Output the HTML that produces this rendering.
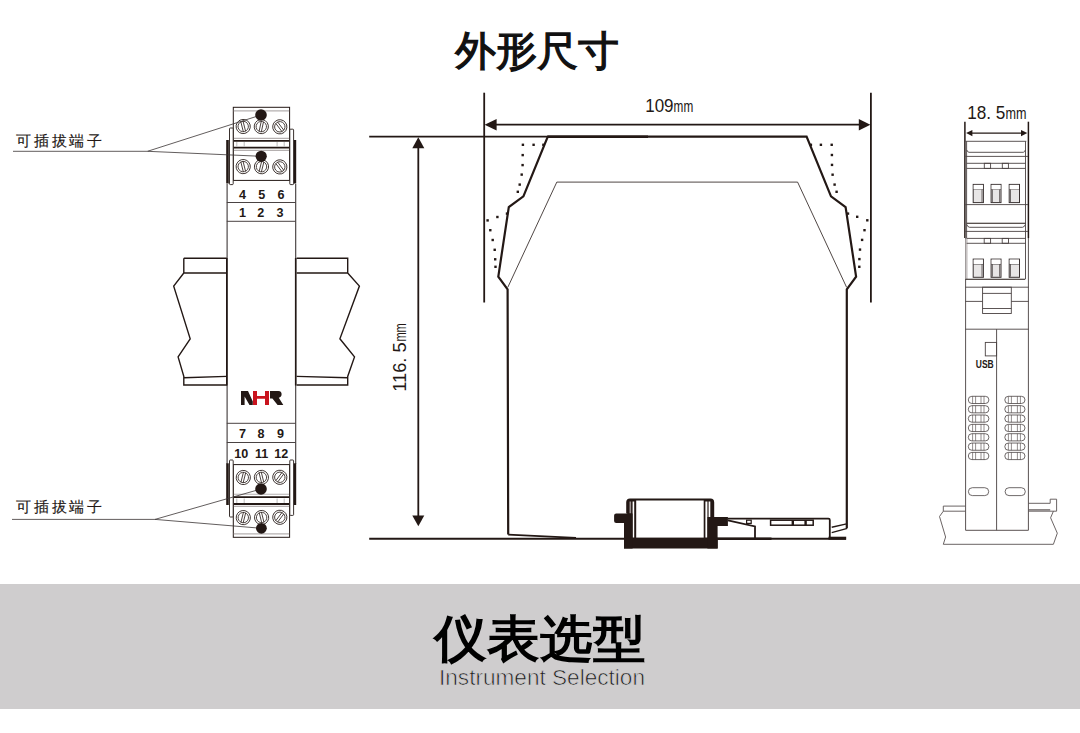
<!DOCTYPE html>
<html><head><meta charset="utf-8">
<style>
html,body{margin:0;padding:0;background:#fff;width:1080px;height:733px;overflow:hidden;font-family:"Liberation Sans",sans-serif;}
svg{position:absolute;left:0;top:0;}
.band{position:absolute;left:0;top:584px;width:1080px;height:125px;background:#cfcdce;}
.t1{position:absolute;left:0;width:1080px;text-align:center;color:#111;white-space:nowrap;}
</style></head><body>
<div class="band"></div>
<div class="t1" id="title1" style="left:-3px;top:24px;font-size:41px;font-weight:400;-webkit-text-stroke:1.3px #111;">外形尺寸</div>
<div class="t1" id="title2" style="top:604px;font-size:53px;font-weight:700;color:#000;transform:scaleY(0.95);transform-origin:540px 35px;">仪表选型</div>
<div class="t1" id="title3" style="left:2px;top:665px;font-size:22.6px;font-weight:400;color:#1a1a1a;-webkit-text-stroke:0.7px #cfcdce;">Instrument Selection</div>
<svg width="1080" height="733" viewBox="0 0 1080 733">
<defs>
<g id="scr">
<circle r="7.1" fill="#fff" stroke="#231815" stroke-width="0.8"/>
<circle r="5.2" fill="none" stroke="#231815" stroke-width="0.75"/>
<line x1="-1.15" y1="-5" x2="-1.15" y2="5" stroke="#231815" stroke-width="0.75"/>
<line x1="1.15" y1="-5" x2="1.15" y2="5" stroke="#231815" stroke-width="0.75"/>
</g>
</defs>
<!-- LEFT DEVICE -->
<g id="left" stroke="#231815" fill="none">
<!-- body edges -->
<line x1="227.1" y1="184" x2="227.1" y2="464" stroke="#3f3838" stroke-width="1.1"/>
<line x1="295.7" y1="184" x2="295.7" y2="464" stroke="#3f3838" stroke-width="1.1"/>
<line x1="226.8" y1="258" x2="226.8" y2="385.5" stroke-width="1.6"/>
<line x1="295.7" y1="258" x2="295.7" y2="385.5" stroke-width="1.6"/>
<line x1="226.8" y1="202.5" x2="295.7" y2="202.5" stroke="#4a4343" stroke-width="1"/>
<line x1="226.8" y1="221.3" x2="295.7" y2="221.3" stroke="#4a4343" stroke-width="1"/>
<line x1="226.8" y1="423.3" x2="295.7" y2="423.3" stroke="#4a4343" stroke-width="1"/>
<line x1="226.8" y1="442.5" x2="295.7" y2="442.5" stroke="#4a4343" stroke-width="1"/>
<!-- rails -->
<path d="M183.8 258.2H226.8M183.8 258.2V273H226.8M183.8 273L173.7 286.1L190.2 338.8L178.1 356.9L183.8 376.4V385H226.8M183.8 377.8L226.8 376.4" stroke-width="1.4"/>
<path d="M296.6 258.2H347.7V273H296.6M347.7 273L359.4 286.1L339.9 338.8L354.5 356.9L347.7 376.4V385H296.6M347.7 377.8L296.6 376.4" stroke-width="1.4"/>
<!-- top terminal block -->
<rect x="233.3" y="107.3" width="56.3" height="73.1" fill="#fff" stroke-width="1"/>
<line x1="233.8" y1="110.9" x2="289.1" y2="110.9" stroke="#b5b0b0" stroke-width="1.3"/>
<line x1="233.8" y1="138.4" x2="289.1" y2="138.4" stroke="#b5b0b0" stroke-width="1.1"/>
<line x1="233.3" y1="140.9" x2="289.6" y2="140.9" stroke-width="1.8"/>
<line x1="233.3" y1="147.6" x2="289.6" y2="147.6" stroke-width="1.8"/>
<line x1="233.8" y1="150.4" x2="289.1" y2="150.4" stroke="#b5b0b0" stroke-width="1.1"/>
<path d="M236.8 142V146.5M244.2 142V146.5M277.1 142V146.5M284.2 142V146.5" stroke="#aaa" stroke-width="0.8"/>
<use href="#scr" transform="translate(243.2,126.5) rotate(-14)"/>
<use href="#scr" transform="translate(261.3,126.6) rotate(12)"/>
<use href="#scr" transform="translate(279.8,126.8) rotate(-37)"/>
<use href="#scr" transform="translate(243.2,166.6) rotate(-14)"/>
<use href="#scr" transform="translate(261.5,166.7) rotate(14)"/>
<use href="#scr" transform="translate(279.8,166.9) rotate(-37)"/>
<!-- clips top -->
<rect x="226.2" y="140" width="2.6" height="43.5" fill="#231815" stroke="none"/>
<rect x="293.6" y="140" width="2.6" height="43.5" fill="#231815" stroke="none"/>
<rect x="229.5" y="128" width="3.7" height="56.6" rx="0.8" fill="#fff" stroke-width="0.9"/>
<rect x="289.8" y="129.2" width="3.8" height="55.4" rx="0.8" fill="#fff" stroke-width="0.9"/>
<!-- bottom terminal block -->
<rect x="233.3" y="464.6" width="56.3" height="72.7" fill="#fff" stroke-width="1"/>
<line x1="233.8" y1="494.2" x2="289.1" y2="494.2" stroke="#b5b0b0" stroke-width="1.1"/>
<line x1="233.3" y1="497.2" x2="289.6" y2="497.2" stroke-width="1.8"/>
<line x1="233.3" y1="504" x2="289.6" y2="504" stroke-width="1.8"/>
<line x1="233.8" y1="506.4" x2="289.1" y2="506.4" stroke="#b5b0b0" stroke-width="1.1"/>
<line x1="233.8" y1="533.8" x2="289.1" y2="533.8" stroke="#b5b0b0" stroke-width="1.3"/>
<path d="M236.8 498.5V503M244.2 498.5V503M277.1 498.5V503M284.2 498.5V503" stroke="#aaa" stroke-width="0.8"/>
<use href="#scr" transform="translate(243.3,477.5) rotate(14)"/>
<use href="#scr" transform="translate(261.4,477.4) rotate(-14)"/>
<use href="#scr" transform="translate(279.8,477.3) rotate(37)"/>
<use href="#scr" transform="translate(243.3,517.6) rotate(14)"/>
<use href="#scr" transform="translate(261.6,517.5) rotate(-14)"/>
<use href="#scr" transform="translate(279.8,517.3) rotate(37)"/>
<rect x="226.2" y="463.3" width="2.6" height="41.7" fill="#231815" stroke="none"/>
<rect x="293.6" y="463.3" width="2.6" height="41.7" fill="#231815" stroke="none"/>
<rect x="229.5" y="460" width="3.7" height="57" rx="0.8" fill="#fff" stroke-width="0.9"/>
<rect x="289.8" y="460" width="3.8" height="55.4" rx="0.8" fill="#fff" stroke-width="0.9"/>
<!-- leader lines -->
<path d="M13 151.3H147.5L261 115M147.5 151.3L261 156.3" stroke="#3a3333" stroke-width="0.8"/>
<path d="M12 519.4H155L261 489M155 519.4L261.4 528.3" stroke="#3a3333" stroke-width="0.8"/>
<circle cx="261" cy="115" r="5.8" fill="#231815" stroke="none"/>
<circle cx="261.2" cy="156.3" r="5.6" fill="#231815" stroke="none"/>
<circle cx="261" cy="489" r="5.8" fill="#231815" stroke="none"/>
<circle cx="261.4" cy="528.3" r="5.4" fill="#231815" stroke="none"/>
<!-- NHR logo -->
<path d="M241 391H248L252.8 401.5V404.9H249.5L244.6 396.5V404.9H241Z" fill="#231815" stroke="none"/>
<path d="M253 391H257V396.1H265V391H269V404.9H265V398.7H257V404.9H253Z" fill="#c9141e" stroke="none"/>
<path d="M270 391H278.3C281 391 281.6 392.6 281.6 394.3C281.6 396 280.6 397.2 278.8 397.7L283.3 404.9H277.6L272.4 398.4H270Z" fill="#231815" stroke="none"/>
</g>
<g id="leftText" font-family="Liberation Sans" font-weight="700" font-size="12.6" fill="#231815" text-anchor="middle">
<text x="242.5" y="199.2">4</text><text x="261.8" y="199.2">5</text><text x="281" y="199.2">6</text>
<text x="242.5" y="216.7">1</text><text x="260.8" y="216.7">2</text><text x="280" y="216.7">3</text>
<text x="242.5" y="437.7">7</text><text x="261.1" y="437.7">8</text><text x="280.6" y="437.7">9</text>
<text x="241.2" y="458.2">10</text><text x="261.6" y="458.2">11</text><text x="281.2" y="458.2">12</text>
</g>
<g font-family="Liberation Sans" font-size="15" fill="#231815" letter-spacing="2.7" stroke="#231815" stroke-width="0.15">
<text x="16.2" y="146">可插拔端子</text>
<text x="16.2" y="512">可插拔端子</text>
</g>
<!-- MIDDLE -->
<g id="mid" stroke="#231815" fill="none">
<!-- extension lines -->
<line x1="484.2" y1="92.7" x2="484.2" y2="302.5" stroke-width="1.8"/>
<line x1="870.9" y1="92.7" x2="870.9" y2="302.5" stroke-width="1.8"/>
<line x1="369.2" y1="136.7" x2="548" y2="136.7" stroke-width="1.8"/>
<line x1="369.2" y1="538.7" x2="846" y2="538.7" stroke-width="1.9"/>
<!-- horizontal dim -->
<line x1="490" y1="124.7" x2="865" y2="124.7" stroke-width="1.8"/>
<path d="M484.6 124.7L496.6 118.9V130.5Z" fill="#231815" stroke="none"/>
<path d="M870.4 124.7L858.8 118.9V130.5Z" fill="#231815" stroke="none"/>
<!-- vertical dim -->
<line x1="418.3" y1="142" x2="418.3" y2="520" stroke-width="1.8"/>
<path d="M418.3 137.3L412.3 148.2H424.3Z" fill="#231815" stroke="none"/>
<path d="M418.3 526.3L412.3 515.5H424.3Z" fill="#231815" stroke="none"/>
<!-- device outline -->
<path d="M508.2 534.6L507.6 289.3L498.3 276.6L508.8 207.1L523.4 196.4L547.8 136.7H806.6L831 196.4L845.6 207.1L856.1 276.6L846.8 289.3V528" stroke-width="2.2" stroke-linejoin="miter"/>
<path d="M508.2 534.6L576 537.8" stroke-width="1.8"/>
<line x1="548" y1="136.7" x2="648" y2="136.7" stroke-width="2.6"/>
<!-- inner thin line -->
<path d="M507.8 287.3L556.8 182.1H797.6L846.6 287.3" stroke-width="0.8"/>
<!-- dotted -->
<g fill="#231815" stroke="none">
<rect x="542.2" y="143.6" width="2.4" height="2.4"/><rect x="532.4" y="143.6" width="2.4" height="2.4"/><rect x="521.7" y="143.6" width="2.4" height="2.4"/><rect x="521.5" y="153.9" width="2.4" height="2.4"/><rect x="521.4" y="163.9" width="2.4" height="2.4"/><rect x="520.5" y="173.4" width="2.4" height="2.4"/><rect x="518.5" y="183.4" width="2.4" height="2.4"/><rect x="516.6" y="190.6" width="2.4" height="2.4"/><rect x="505.8" y="212.4" width="2.4" height="2.4"/><rect x="496.2" y="215.8" width="2.4" height="2.4"/><rect x="486.4" y="219.2" width="2.4" height="2.4"/><rect x="489.1" y="229.0" width="2.4" height="2.4"/><rect x="491.5" y="238.8" width="2.4" height="2.4"/><rect x="493.5" y="248.6" width="2.4" height="2.4"/><rect x="494.0" y="258.1" width="2.4" height="2.4"/><rect x="494.3" y="265.6" width="2.4" height="2.4"/><rect x="809.7" y="143.6" width="2.4" height="2.4"/><rect x="819.7" y="143.6" width="2.4" height="2.4"/><rect x="830.5" y="143.6" width="2.4" height="2.4"/><rect x="830.7" y="153.8" width="2.4" height="2.4"/><rect x="830.8" y="163.7" width="2.4" height="2.4"/><rect x="831.4" y="173.5" width="2.4" height="2.4"/><rect x="833.4" y="183.4" width="2.4" height="2.4"/><rect x="835.4" y="190.6" width="2.4" height="2.4"/><rect x="846.8" y="212.4" width="2.4" height="2.4"/><rect x="856.0" y="215.6" width="2.4" height="2.4"/><rect x="866.1" y="219.1" width="2.4" height="2.4"/><rect x="863.3" y="229.0" width="2.4" height="2.4"/><rect x="860.9" y="238.7" width="2.4" height="2.4"/><rect x="858.8" y="248.4" width="2.4" height="2.4"/><rect x="858.2" y="257.9" width="2.4" height="2.4"/><rect x="858.1" y="265.6" width="2.4" height="2.4"/>
</g>
<!-- DIN clip -->
<rect x="624" y="537.8" width="93.7" height="10.7" fill="#231815" stroke="none"/>
<path d="M627.2 513.4V502.2Q627.2 499.4 630 499.4H710.5Q713.2 499.4 713.2 502.2V517" stroke-width="2"/>
<rect x="627.2" y="500" width="9" height="38" fill="#231815" stroke="none"/>
<rect x="629.5" y="501.5" width="1.6" height="12" fill="#9a9090" stroke="none"/>
<rect x="632.6" y="501.5" width="1.6" height="36" fill="#fff" stroke="none"/>
<rect x="703.7" y="500" width="9.5" height="38" fill="#231815" stroke="none"/>
<rect x="705.4" y="501.5" width="2" height="36" fill="#fff" stroke="none"/>
<rect x="708.6" y="501.5" width="1.7" height="15.5" fill="#fff" stroke="none"/>
<path d="M624 548.5V523H616.2Q614.1 523 614.1 520.9V515.5Q614.1 513.4 616.2 513.4H632.6V548.5Z" fill="#231815" stroke="none"/>
<path d="M707.4 517H727.9V526H717.6V548.5H707.4Z" fill="#231815" stroke="none"/>
<!-- right component -->
<path d="M727.5 518.6H828.4Q829.8 518.6 829.8 520V538.3" stroke-width="1.8"/>
<path d="M727.9 520.3L755 526.4V538" stroke-width="1.8"/>
<rect x="746.6" y="520.2" width="4.6" height="3.2" stroke-width="1.2"/>
<rect x="770.6" y="520.2" width="42.6" height="5" stroke-width="1.5"/>
<path d="M792.8 520.2V525.2M805.6 520.2V525.2" stroke-width="2.4"/>
<line x1="828.5" y1="538.2" x2="846.2" y2="538.2" stroke-width="3"/>
<path d="M846.6 523.9L831.7 527.2M847.3 528.3L831.7 532.7" stroke-width="1.4"/>
<line x1="717" y1="538.8" x2="771.5" y2="538.8" stroke-width="2.4"/>
</g>
<g font-family="Liberation Sans" fill="#231815">
<text x="645.2" y="112.4" font-size="18.6" textLength="28.4" lengthAdjust="spacingAndGlyphs">109</text>
<text x="673.6" y="112.4" font-size="17.2" textLength="19.6" lengthAdjust="spacingAndGlyphs">mm</text>
<g transform="translate(405.7,391.2) rotate(-90)">
<text x="-0.6" y="0" font-size="18.6" textLength="49.4" lengthAdjust="spacingAndGlyphs">116. 5</text>
<text x="49.6" y="0" font-size="17.2" textLength="18.4" lengthAdjust="spacingAndGlyphs">mm</text>
</g>
</g>
<!-- RIGHT -->
<g id="right" stroke="#231815" fill="none">
<!-- dims -->
<line x1="964.9" y1="121.7" x2="964.9" y2="237.9" stroke-width="1.5"/>
<line x1="1028.4" y1="121.7" x2="1028.4" y2="238.1" stroke-width="1.5"/>
<line x1="970" y1="133.1" x2="1023" y2="133.1" stroke-width="1.2"/>
<path d="M966.1 133.1L972.4 129.9V136.3Z" fill="#231815" stroke="none"/>
<path d="M1027.3 133.1L1021 129.9V136.3Z" fill="#231815" stroke="none"/>
<!-- body lower -->
<g stroke="#5a5252" stroke-width="1">
<line x1="965.6" y1="238" x2="965.6" y2="530.3"/>
<line x1="1028.4" y1="238" x2="1028.4" y2="530.3"/>
<line x1="965.6" y1="530.3" x2="1028.4" y2="530.3"/>
<line x1="996.6" y1="329.2" x2="996.6" y2="530.3"/>
</g>
<rect x="965.4" y="238.5" width="2.2" height="40.5" fill="#c8c4c4" stroke="none"/>
<!-- plug upper -->
<g stroke="#4a4242" stroke-width="0.9">
<line x1="966.6" y1="141.3" x2="966.6" y2="238.3"/>
<line x1="1025.5" y1="141.3" x2="1025.5" y2="279.3"/>
<path d="M965.4 141.3H1026.3"/>
<path d="M966.8 150Q967.2 152 969 152.3H1023.3Q1025 152 1025.3 150"/>
<path d="M965.4 156.4H1028"/>
<path d="M966.6 163.3H1025.5M966.6 168.4H1025.5"/>
<rect x="984.3" y="163.3" width="6.3" height="5.1"/>
<rect x="1002.3" y="163.3" width="6.1" height="5.1"/>
<path d="M965.4 204.6H1028"/>
<path d="M966.8 223.3H1025.3" stroke="#231815" stroke-width="1.1"/>
<path d="M966.8 224.5Q967.3 226.8 969.5 227.3H1022.5Q1024.8 226.8 1025.3 224.5"/>
<path d="M965.4 231.4H1028"/>
<path d="M966.6 238.4H1025.5M966.6 243.3H1025.5"/>
<rect x="984.2" y="238.4" width="6.4" height="4.9"/>
<rect x="1002.2" y="238.4" width="6.3" height="4.9"/>
<path d="M965.7 279.3H1025" stroke="#231815" stroke-width="1.1"/>
<path d="M965.4 287.2H1028.6"/>
<rect x="982.6" y="287.2" width="28.7" height="26.3"/>
<path d="M982.6 293.4H1011.3M982.6 308.5H1011.3"/>
<path d="M965.4 301.4H982.6M1011.3 301.4H1028.6"/>
<path d="M965.4 329.2H1028.6"/>
<rect x="985.3" y="342.4" width="11.3" height="13.5"/>
</g>
<!-- terminals -->
<g id="term" stroke="#3a3232" stroke-width="1">
<rect x="973.2" y="184.4" width="10.2" height="18.2" fill="#e8e6e6"/>
<rect x="991.1" y="184.4" width="9.9" height="18.2" fill="#e8e6e6"/>
<rect x="1009.2" y="184.4" width="10.3" height="18.2" fill="#e8e6e6"/>
<path d="M973.2 189.5H983.4M991.1 189.5H1001M1009.2 189.5H1019.5" stroke-width="0.9"/>
<rect x="973.7" y="184.9" width="9.2" height="4.6" fill="#fff" stroke="none"/>
<rect x="991.6" y="184.9" width="8.9" height="4.6" fill="#fff" stroke="none"/>
<rect x="1009.7" y="184.9" width="9.3" height="4.6" fill="#fff" stroke="none"/>
<path d="M982 189.5V202M992.4 189.5V202M999.6 189.5V202M1010.5 189.5V202" stroke-width="0.7"/>
</g>
<use href="#term" transform="translate(0,74.7)"/>
<!-- vent slots -->
<g id="vent" stroke="#4a4242" stroke-width="0.8">
<rect x="968.3" y="396.3" width="20.6" height="7.2" rx="3.6"/>
<path d="M972.6 396.3V403.5M975.6 396.3V403.5M981 396.3V403.5M984 396.3V403.5" stroke-width="0.6"/>
<rect x="1004.8" y="396.3" width="20.2" height="7.2" rx="3.6"/>
<path d="M1008.4 396.3V403.5M1011.4 396.3V403.5M1017.4 396.3V403.5M1020.4 396.3V403.5" stroke-width="0.6"/>
</g>
<use href="#vent" transform="translate(0,9.35)"/>
<use href="#vent" transform="translate(0,18.7)"/>
<use href="#vent" transform="translate(0,28.05)"/>
<use href="#vent" transform="translate(0,37.4)"/>
<use href="#vent" transform="translate(0,46.75)"/>
<use href="#vent" transform="translate(0,56.1)"/>
<rect x="968.4" y="487.7" width="20.3" height="7.9" rx="3.95" stroke="#4a4242" stroke-width="0.8"/>
<rect x="1005.1" y="487.7" width="20.2" height="7.9" rx="3.95" stroke="#4a4242" stroke-width="0.8"/>
<!-- rail -->
<g stroke="#5a5252" stroke-width="0.9">
<path d="M965.5 506.1H943.3V511.2H965.5"/>
<path d="M943.3 511.2L939.5 516.5L945.6 537L943.3 544.3H1053.4L1057.3 533.2L1050.6 517.8L1053.4 511.2"/>
<path d="M1028.5 503.3H1050.2V499.2H1056.6V511.2H1028.5"/>
<path d="M1028.5 509.9H1050.2" stroke-width="1.2"/>
</g>
</g>
<g font-family="Liberation Sans" fill="#231815">
<text x="967.2" y="118.5" font-size="18.4" textLength="38.2" lengthAdjust="spacingAndGlyphs">18. 5</text>
<text x="1005.6" y="118.5" font-size="17" textLength="21" lengthAdjust="spacingAndGlyphs">mm</text>
<text x="975.8" y="367.6" font-size="10.6" font-weight="700" transform="translate(975.8,0) scale(0.8,1) translate(-975.8,0)">USB</text>
</g>
</svg>
</body></html>
